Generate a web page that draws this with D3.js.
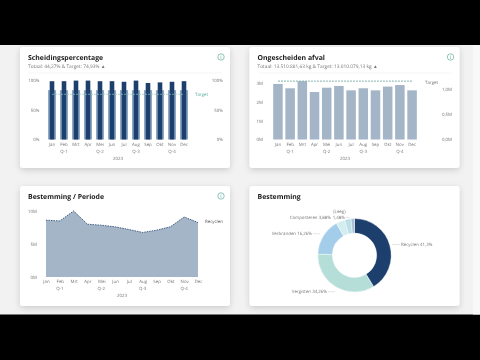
<!DOCTYPE html>
<html>
<head>
<meta charset="utf-8">
<script src="https://cdn.jsdelivr.net/npm/d3@7"></script>
<style>
  html, body { margin: 0; padding: 0; background: #000; overflow: hidden; }
  /* own layer keeps the tiny text grey instead of colour fringed */
  svg { display: block; font-family: "Open Sans", sans-serif; text-rendering: geometricPrecision; will-change: transform; }
</style>
</head>
<body>
<svg width="480" height="360"></svg>
<script>
var months = ['Jan', 'Feb', 'Mrt', 'Apr', 'Mei', 'Jun', 'Jul', 'Aug', 'Sep', 'Okt', 'Nov', 'Dec'];
var quarters = ['Q-1', 'Q-2', 'Q-3', 'Q-4'];
var quarterMonths = ['Feb', 'Mei', 'Aug', 'Nov'];

var scheidingActual = [98, 98, 99, 99, 98, 98, 97, 99, 95, 96, 97, 98];
var scheidingLight = [83, 83, 83, 83, 83, 83, 83, 83, 83, 83, 83, 83];
var scheidingTarget = [76, 76, 76, 76, 76, 76, 76, 76, 76, 76, 76, 76];
var scheidingTicks = [0, 50, 100];

var afvalValues = [2.95, 2.72, 3.09, 2.52, 2.75, 2.84, 2.61, 2.72, 2.61, 2.81, 2.89, 2.61];
var afvalTarget = [3.1, 3.1, 3.1, 3.1, 3.1, 3.1, 3.1, 3.1, 3.1, 3.1, 3.1, 3.1];
var afvalTicks = [0, 1, 2, 3];
var afvalRightTicks = [0, 0.5, 1];

var periodeValues = [8.6, 8.5, 10, 8, 7.85, 7.6, 7.2, 6.75, 7.1, 7.6, 9.1, 8.25];
var periodeTicks = [0, 5, 10];

var donutNames = ['Recyclen', 'Vergisten', 'Verbranden', 'Composteren', '', '(Leeg)'];
var donutValues = [41.3, 34.26, 16.26, 3.88, 2.82, 1.48];
var donutColors = ['#1d3f6e', '#b5ded9', '#a3cde8', '#d4eef0', '#bddfe8', '#a9bfd3'];

var svg = d3.select('svg');
var grey = '#777';
var tickSize = 4.4;

var defs = svg.append('defs');
defs.append('filter')
  .attr('id', 'shadow')
  .attr('x', '-10%').attr('y', '-10%').attr('width', '120%').attr('height', '125%')
  .append('feDropShadow')
  .attr('dx', 0).attr('dy', 2).attr('stdDeviation', 3)
  .attr('flood-color', '#000').attr('flood-opacity', 0.16);

// grey page between the black bars
svg.append('rect').attr('x', 0).attr('y', 0).attr('width', 480).attr('height', 360).attr('fill', '#000');
svg.append('rect').attr('x', 0).attr('y', 45).attr('width', 480).attr('height', 269.5).attr('fill', '#f2f2f2');
svg.append('rect').attr('x', 473).attr('y', 45).attr('width', 7).attr('height', 269.5).attr('fill', '#f8f8f8');

function addCard(x, y, w, h, title, subtitle, info) {
  var g = svg.append('g');
  g.append('rect')
    .attr('x', x).attr('y', y).attr('width', w).attr('height', h)
    .attr('rx', 3)
    .attr('fill', '#fff')
    .attr('filter', 'url(#shadow)');
  g.append('text')
    .attr('x', x + 8).attr('y', y + 12.5)
    .attr('font-size', 6.9).attr('font-weight', 700).attr('fill', '#1a1a1a')
    .text(title);
  if (subtitle) {
    g.append('text')
      .attr('x', x + 8).attr('y', y + 21.3)
      .attr('font-size', 4.8).attr('fill', grey)
      .text(subtitle);
    g.append('line')
      .attr('x1', x + 8).attr('x2', x + w - 8)
      .attr('y1', y + 26).attr('y2', y + 26)
      .attr('stroke', '#f0f0f0').attr('stroke-width', 0.6);
  }
  if (info) {
    g.append('circle')
      .attr('cx', x + w - 9).attr('cy', y + 10).attr('r', 3.2)
      .attr('fill', 'none').attr('stroke', '#5fae9c').attr('stroke-width', 0.7);
    g.append('text')
      .attr('x', x + w - 9).attr('y', y + 12).attr('text-anchor', 'middle')
      .attr('font-size', 5.5).attr('fill', '#5fae9c')
      .text('i');
  }
}

function styleAxis(sel) {
  sel.select('.domain').remove();
  sel.selectAll('.tick line').remove();
  sel.selectAll('.tick text')
    .attr('font-size', tickSize)
    .attr('fill', grey)
    .attr('font-family', '"Open Sans", sans-serif');
}

// month labels with the quarter below, year under that
function addMonthAxis(xScale, y, yearX) {
  var axis = svg.append('g')
    .attr('transform', 'translate(0,' + y + ')')
    .call(d3.axisBottom(xScale).tickSize(0).tickPadding(2.5));
  styleAxis(axis);
  svg.selectAll(null)
    .data(quarters)
    .enter()
    .append('text')
    .attr('x', function (d, i) {
      var p = xScale(quarterMonths[i]);
      return xScale.bandwidth ? p + xScale.bandwidth() / 2 : p;
    })
    .attr('y', y + 13)
    .attr('text-anchor', 'middle')
    .attr('font-size', tickSize).attr('fill', grey)
    .text(function (d) { return d; });
  svg.append('text')
    .attr('x', yearX).attr('y', y + 20)
    .attr('text-anchor', 'middle')
    .attr('font-size', tickSize).attr('fill', grey)
    .text('2023');
}

function smallLabel(x, y, txt, anchor, color) {
  svg.append('text')
    .attr('x', x).attr('y', y)
    .attr('text-anchor', anchor || 'start')
    .attr('font-size', tickSize).attr('fill', color || grey)
    .text(txt);
}

// ---- Scheidingspercentage
function drawScheiding() {
  addCard(20, 47, 210, 121, 'Scheidingspercentage', 'Totaal: 44,27% & Target: 74,93% \u25B2', true);
  var x = d3.scaleBand().domain(months).range([46, 190]).padding(0);
  var y = d3.scaleLinear().domain([0, 100]).range([139.5, 80]);
  var w = x.bandwidth();

  svg.selectAll(null).data(months).enter().append('rect')
    .attr('x', function (d) { return x(d) + w / 2 - 4; })
    .attr('y', function (d, i) { return y(scheidingLight[i]); })
    .attr('width', 8)
    .attr('height', function (d, i) { return y(0) - y(scheidingLight[i]); })
    .attr('fill', '#8fa8c4');

  svg.selectAll(null).data(months).enter().append('rect')
    .attr('x', function (d) { return x(d) + w / 2 - 2.3; })
    .attr('y', function (d, i) { return y(scheidingActual[i]); })
    .attr('width', 4.6)
    .attr('height', function (d, i) { return y(0) - y(scheidingActual[i]); })
    .attr('fill', '#1d3f6e');

  var line = d3.line()
    .x(function (d, i) { return x(months[i]) + w / 2; })
    .y(function (d) { return y(d); });
  svg.append('path')
    .attr('d', line(scheidingTarget))
    .attr('fill', 'none')
    .attr('stroke', '#8cc9bb').attr('stroke-width', 0.7).attr('stroke-dasharray', '2,1');

  var fmt = function (d) { return d + '%'; };
  styleAxis(svg.append('g').attr('transform', 'translate(39.5,0)')
    .call(d3.axisLeft(y).tickValues(scheidingTicks).tickFormat(fmt).tickSize(0).tickPadding(0)));
  styleAxis(svg.append('g').attr('transform', 'translate(223,0)')
    .call(d3.axisLeft(y).tickValues(scheidingTicks).tickFormat(fmt).tickSize(0).tickPadding(0)));
  smallLabel(195, 95.7, 'Target', 'start', '#5fae9c');
  addMonthAxis(x, 140, 118);
}

// ---- Ongescheiden afval
function drawAfval() {
  addCard(249.5, 47, 210, 121, 'Ongescheiden afval', 'Totaal: 13.510.881,63 kg & Target: 13.010.079,13 kg \u25B2', true);
  var x = d3.scaleBand().domain(months).range([270.5, 419.5]).padding(0.22);
  var y = d3.scaleLinear().domain([0, 3]).range([139.5, 83]);
  var yRight = d3.scaleLinear().domain([0, 1]).range([139.5, 89]);

  svg.selectAll(null).data(months).enter().append('rect')
    .attr('x', function (d) { return x(d); })
    .attr('y', function (d, i) { return y(afvalValues[i]); })
    .attr('width', x.bandwidth())
    .attr('height', function (d, i) { return y(0) - y(afvalValues[i]); })
    .attr('fill', '#a3b5c6');

  var line = d3.line()
    .x(function (d, i) { return x(months[i]) + x.bandwidth() / 2; })
    .y(function (d) { return y(d); });
  svg.append('path')
    .attr('d', line(afvalTarget))
    .attr('fill', 'none')
    .attr('stroke', '#4e8f86').attr('stroke-width', 0.7).attr('stroke-dasharray', '2,1');

  styleAxis(svg.append('g').attr('transform', 'translate(263,0)')
    .call(d3.axisLeft(y).tickValues(afvalTicks).tickFormat(function (d) { return d + 'M'; }).tickSize(0).tickPadding(0)));
  styleAxis(svg.append('g').attr('transform', 'translate(452,0)')
    .call(d3.axisLeft(yRight).tickValues(afvalRightTicks).tickFormat(function (d) { return d3.format('.1f')(d).replace('.', ',') + 'M'; }).tickSize(0).tickPadding(0)));
  smallLabel(425, 83.5, 'Target', 'start', grey);
  addMonthAxis(x, 140, 345);
}

// ---- Bestemming / Periode
function drawPeriode() {
  addCard(20, 186, 210, 120, 'Bestemming / Periode', null, true);
  var x = d3.scalePoint().domain(months).range([46, 198]);
  var y = d3.scaleLinear().domain([0, 10]).range([277, 211]);

  var area = d3.area()
    .x(function (d, i) { return x(months[i]); })
    .y0(y(0))
    .y1(function (d) { return y(d); });
  svg.append('path').attr('d', area(periodeValues)).attr('fill', '#a3b5c6');

  var line = d3.line()
    .x(function (d, i) { return x(months[i]); })
    .y(function (d) { return y(d); });
  svg.append('path')
    .attr('d', line(periodeValues))
    .attr('fill', 'none')
    .attr('stroke', '#1d3f6e').attr('stroke-width', 0.8).attr('stroke-dasharray', '1.5,1');

  styleAxis(svg.append('g').attr('transform', 'translate(37,0)')
    .call(d3.axisLeft(y).tickValues(periodeTicks).tickFormat(function (d) { return d + 'M'; }).tickSize(0).tickPadding(0)));
  smallLabel(205, 223.4, 'Recyclen', 'start', '#555');
  addMonthAxis(x, 277, 122);
}

// ---- Bestemming donut
function drawDonut() {
  addCard(249.5, 186, 210, 120, 'Bestemming', null, false);
  var cx = 354.5, cy = 255.3;
  var pie = d3.pie().sort(null)(donutValues);
  var arc = d3.arc().innerRadius(22.2).outerRadius(36.7);
  var g = svg.append('g').attr('transform', 'translate(' + cx + ',' + cy + ')');
  g.selectAll('path').data(pie).enter().append('path')
    .attr('d', arc)
    .attr('fill', function (d, i) { return donutColors[i]; })
    .attr('stroke', '#fff').attr('stroke-width', 0.4);

  function pct(i) { return d3.format('.2f')(donutValues[i]).replace('.', ','); }
  smallLabel(401, 246, donutNames[0] + ' 41,3%', 'start');
  smallLabel(327, 293.4, donutNames[1] + ' ' + pct(1) + '%', 'end');
  smallLabel(312, 235.4, donutNames[2] + ' ' + pct(2) + '%', 'end');
  smallLabel(331, 219.4, donutNames[3] + ' ' + pct(3) + '%', 'end');
  smallLabel(345, 219.4, pct(5) + '%', 'end');
  smallLabel(345.5, 212.7, donutNames[5], 'end');

  var leaders = [[392, 244.5, 400, 244.5], [328, 291.7, 335, 291.7], [313, 233.7, 320, 233.7], [346, 217.5, 350, 217.5]];
  svg.selectAll(null).data(leaders).enter().append('line')
    .attr('x1', function (d) { return d[0]; })
    .attr('y1', function (d) { return d[1]; })
    .attr('x2', function (d) { return d[2]; })
    .attr('y2', function (d) { return d[3]; })
    .attr('stroke', '#ccc').attr('stroke-width', 0.5);
}

drawScheiding();
drawAfval();
drawPeriode();
drawDonut();
</script>
</body>
</html>
